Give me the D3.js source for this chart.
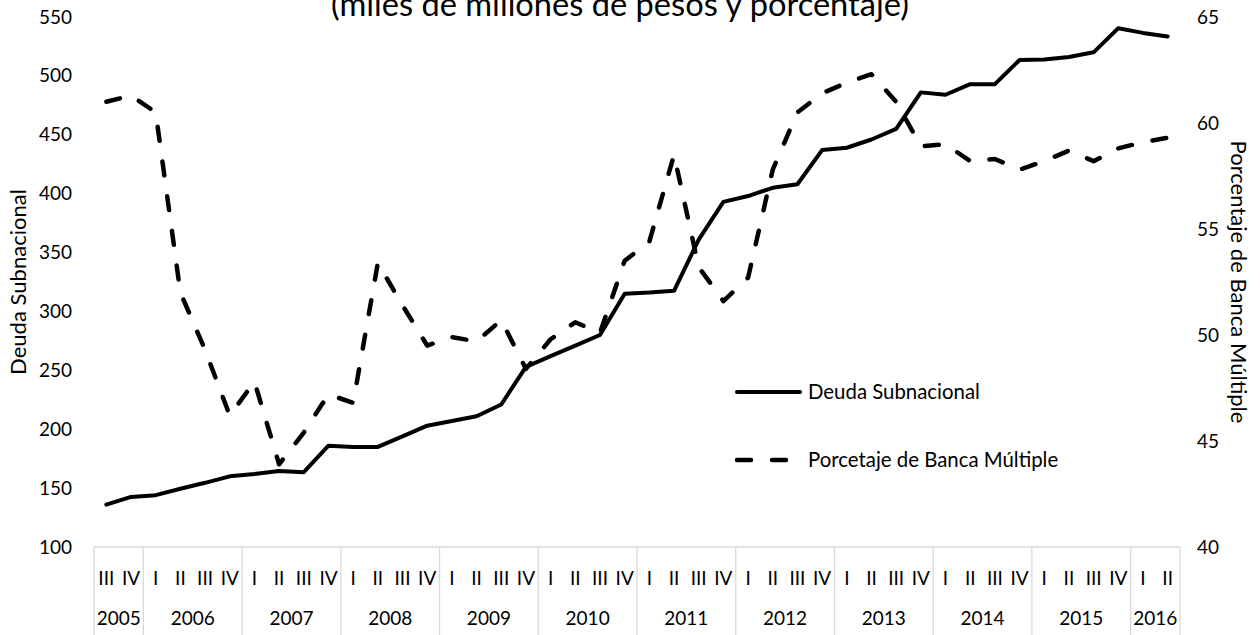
<!DOCTYPE html>
<html>
<head>
<meta charset="utf-8">
<script src="https://cdn.jsdelivr.net/npm/d3@7"></script>
<style>
  html, body { margin: 0; padding: 0; background: #fff; }
  svg { display: block; }
  text { font-family: Lato, "Open Sans", sans-serif; fill: #000; }
</style>
</head>
<body>
<svg id="chart" width="1260" height="635"></svg>
<script>
// ---- Data ----
const quarterLabels = ["III","IV",
  "I","II","III","IV", "I","II","III","IV", "I","II","III","IV", "I","II","III","IV",
  "I","II","III","IV", "I","II","III","IV", "I","II","III","IV", "I","II","III","IV",
  "I","II","III","IV", "I","II","III","IV", "I","II"];
const yearLabels = ["2005","2006","2007","2008","2009","2010","2011","2012","2013","2014","2015","2016"];
const quartersPerYear = [2,4,4,4,4,4,4,4,4,4,4,2];
const deudaSubnacional = [136,142.5,144,149.5,154.5,160,162,164.5,163.5,186,185,185,
  194,203,207,211,221,253,262,271,280,315,316,317.5,361,393,398,405,408,437,439,446,
  455,486,484,493,493,513.5,514,516,520,540.5,536.5,533.5];
const porcentajeBanca = [61.0,61.3,60.5,52.0,49.3,46.2,47.8,43.9,45.4,47.2,46.8,53.4,
  51.4,49.5,49.9,49.7,50.7,48.4,49.8,50.6,50.1,53.5,54.4,58.5,53.2,51.6,52.7,57.8,60.5,
  61.4,61.9,62.3,61.0,58.9,59.0,58.2,58.3,57.8,58.2,58.7,58.2,58.8,59.1,59.3];
const leftTicks = [100,150,200,250,300,350,400,450,500,550];
const rightTicks = [40,45,50,55,60,65];
const titleText = "(miles de millones de pesos y porcentaje)";
const leftTitle = "Deuda Subnacional";
const rightTitle = "Porcentaje de Banca Múltiple";
const legendLabels = ["Deuda Subnacional", "Porcetaje de Banca Múltiple"];

// ---- Layout ----
const svg = d3.select("#chart");
const plot = {left: 94, right: 1180, top: 17, bottom: 547};
const idx = d3.range(quarterLabels.length);
const x = d3.scaleBand().domain(idx).range([plot.left, plot.right]).padding(0);
const cx = i => x(i) + x.bandwidth() / 2;
const yL = d3.scaleLinear().domain([100, 550]).range([plot.bottom, plot.top]);
const yR = d3.scaleLinear().domain([40, 65]).range([plot.bottom, plot.top]);

const baseFont = 19;

function fitWidth(sel, target) {
  sel.style("font-size", "100px");
  const w = sel.node().getComputedTextLength();
  sel.style("font-size", (100 * target / w) + "px");
}

// Title (partially cut at top)
const t = svg.append("text").attr("x", 620).attr("y", 16)
  .attr("text-anchor", "middle").text(titleText);
fitWidth(t, 578);

// Left axis
const gL = svg.append("g").attr("transform", `translate(${plot.left},0)`)
  .call(d3.axisLeft(yL).tickValues(leftTicks).tickSize(0).tickPadding(22));
gL.select(".domain").remove();
gL.selectAll("text").style("font-size", baseFont + "px").style("font-family", "Lato").attr("fill", "#000");

// Right axis
const gR = svg.append("g").attr("transform", `translate(${plot.right},0)`)
  .call(d3.axisRight(yR).tickValues(rightTicks).tickSize(0).tickPadding(17));
gR.select(".domain").remove();
gR.selectAll("text").style("font-size", baseFont + "px").style("font-family", "Lato").attr("fill", "#000");

// Axis titles
const lt = svg.append("text").attr("transform", `translate(17,${(plot.top + plot.bottom) / 2}) rotate(-90)`)
  .attr("text-anchor", "middle").attr("dominant-baseline", "central").text(leftTitle);
fitWidth(lt, 186);
const ltSize = lt.style("font-size");
svg.append("text").attr("transform", `translate(1239,${(plot.top + plot.bottom) / 2}) rotate(90)`)
  .attr("text-anchor", "middle").attr("dominant-baseline", "central")
  .style("font-size", ltSize).text(rightTitle);

// Category axis box
const grid = "#d9d9d9";
svg.append("line").attr("x1", plot.left).attr("x2", plot.right)
  .attr("y1", plot.bottom).attr("y2", plot.bottom).attr("stroke", grid).attr("stroke-width", 1.3);
let start = 0;
const yearGroups = yearLabels.map((y, k) => {
  const g = {label: y, first: start, last: start + quartersPerYear[k] - 1};
  start += quartersPerYear[k];
  return g;
});
const bounds = [x(0)].concat(yearGroups.map(g => x(g.last) + x.bandwidth()));
svg.selectAll(".sep").data(bounds).join("line")
  .attr("x1", d => d).attr("x2", d => d)
  .attr("y1", plot.bottom).attr("y2", 635)
  .attr("stroke", grid).attr("stroke-width", 1.3);

const gQ = svg.append("g").attr("transform", `translate(0,${plot.bottom})`)
  .call(d3.axisBottom(x).tickSize(0).tickPadding(0).tickFormat(i => quarterLabels[i]));
gQ.select(".domain").remove();
gQ.selectAll("text").attr("y", 31).attr("dy", "0.35em")
  .style("font-size", baseFont + "px").style("font-family", "Lato").attr("fill", "#000");

svg.selectAll(".yearlab").data(yearGroups).join("text")
  .attr("x", g => (x(g.first) + x(g.last) + x.bandwidth()) / 2)
  .attr("y", 618).attr("dy", "0.35em").attr("text-anchor", "middle")
  .style("font-size", baseFont + "px").text(g => g.label);

// Lines
const lineL = d3.line().x((d, i) => cx(i)).y(d => yL(d));
const lineR = d3.line().x((d, i) => cx(i)).y(d => yR(d));
svg.append("path").datum(deudaSubnacional).attr("d", lineL)
  .attr("fill", "none").attr("stroke", "#000").attr("stroke-width", 4)
  .attr("stroke-linejoin", "round").attr("stroke-linecap", "round");
svg.append("path").datum(porcentajeBanca).attr("d", lineR)
  .attr("fill", "none").attr("stroke", "#000").attr("stroke-width", 4.5)
  .attr("stroke-dasharray", "14,21")
  .attr("stroke-linejoin", "round").attr("stroke-linecap", "round");

// Legend
const legY = [392, 460];
svg.append("line").attr("x1", 737).attr("x2", 800).attr("y1", legY[0]).attr("y2", legY[0])
  .attr("stroke", "#000").attr("stroke-width", 4).attr("stroke-linecap", "round");
svg.append("line").attr("x1", 737).attr("x2", 800).attr("y1", legY[1]).attr("y2", legY[1])
  .attr("stroke", "#000").attr("stroke-width", 4.5).attr("stroke-dasharray", "14,21")
  .attr("stroke-linecap", "round");
const lg0 = svg.append("text").attr("x", 808).attr("y", legY[0]).attr("dy", "0.35em").text(legendLabels[0]);
fitWidth(lg0, 172);
svg.append("text").attr("x", 808).attr("y", legY[1]).attr("dy", "0.35em")
  .style("font-size", lg0.style("font-size")).text(legendLabels[1]);
</script>
</body>
</html>
